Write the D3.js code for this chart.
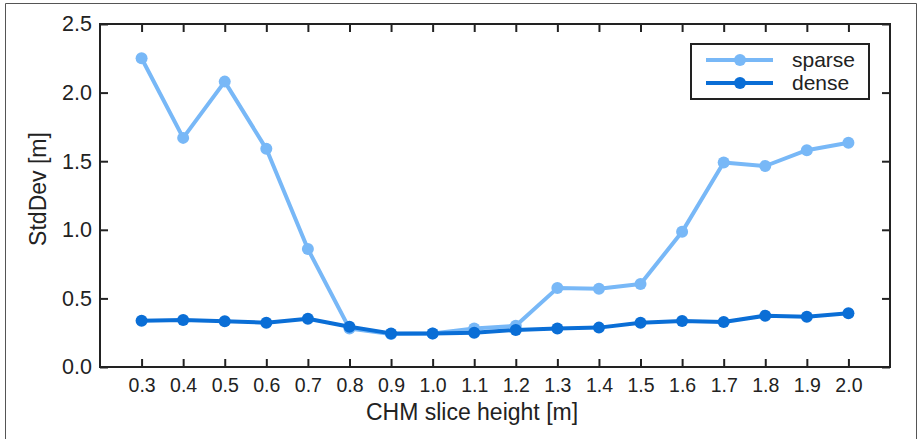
<!DOCTYPE html>
<html>
<head>
<meta charset="utf-8">
<script src="https://cdn.jsdelivr.net/npm/d3@7"></script>
<style>
  body { margin: 0; background: #fff; }
  svg { font-family: "Liberation Sans", Arial, sans-serif; }
</style>
</head>
<body>
<div id="chart"></div>
<script>
const heights = [0.3, 0.4, 0.5, 0.6, 0.7, 0.8, 0.9, 1.0, 1.1, 1.2, 1.3, 1.4, 1.5, 1.6, 1.7, 1.8, 1.9, 2.0];
const sparse = [2.25, 1.67, 2.08, 1.59, 0.86, 0.28, 0.24, 0.245, 0.28, 0.30, 0.575, 0.57, 0.605, 0.985, 1.49, 1.465, 1.58, 1.635];
const dense = [0.337, 0.343, 0.333, 0.323, 0.352, 0.294, 0.245, 0.245, 0.25, 0.27, 0.28, 0.287, 0.323, 0.335, 0.328, 0.374, 0.367, 0.391];
const yTicks = [0.0, 0.5, 1.0, 1.5, 2.0, 2.5];

const series = [
    {name: "sparse", values: sparse, color: "#78b8f7"},
    {name: "dense", values: dense, color: "#0a6ed6"}
];

let W = 918, H = 439;
let margin = {left: 100, right: 28, top: 24, bottom: 72};
let width = W - margin.left - margin.right,
    height = H - margin.top - margin.bottom;

let svg = d3.select("#chart")
    .append("svg")
    .attr("width", W)
    .attr("height", H);

// outer frame
svg.append("path")
    .attr("d", "M5.5," + H + "V3.5H916.5V" + H)
    .attr("fill", "none")
    .attr("stroke", "#555")
    .attr("stroke-width", 1);

let g = svg.append("g")
    .attr("transform", "translate(" + margin.left + "," + margin.top + ")");

let x = d3.scaleLinear().domain([0.2, 2.1]).range([0, width]);
let y = d3.scaleLinear().domain([0, 2.5]).range([height, 0]);

let fmt = d3.format(".1f");

let styleAxis = (sel, fontSize, hideText) => {
    sel.select(".domain").remove();
    sel.selectAll(".tick line").attr("stroke", "#222").attr("stroke-width", 2);
    sel.selectAll(".tick text")
        .attr("font-size", fontSize)
        .attr("fill", "#222");
    if (hideText) sel.selectAll(".tick text").remove();
};

g.append("g")
    .attr("transform", "translate(0," + height + ")")
    .call(d3.axisBottom(x).tickValues(heights).tickFormat(fmt).tickSizeInner(-8).tickSizeOuter(0).tickPadding(11))
    .call(s => styleAxis(s, "19.5px", false));

g.append("g")
    .call(d3.axisTop(x).tickValues(heights).tickSizeInner(-8).tickSizeOuter(0))
    .call(s => styleAxis(s, "19px", true));

g.append("g")
    .call(d3.axisLeft(y).tickValues(yTicks).tickFormat(fmt).tickSizeInner(-8).tickSizeOuter(0).tickPadding(8))
    .call(s => styleAxis(s, "21.5px", false));

g.append("g")
    .attr("transform", "translate(" + width + ",0)")
    .call(d3.axisRight(y).tickValues(yTicks).tickSizeInner(-8).tickSizeOuter(0))
    .call(s => styleAxis(s, "21px", true));

g.append("rect")
    .attr("width", width)
    .attr("height", height)
    .attr("fill", "none")
    .attr("stroke", "#222")
    .attr("stroke-width", 2);

let line = d3.line()
    .x((d, i) => x(heights[i]))
    .y(d => y(d));

series.forEach(s => {
    g.append("path")
        .datum(s.values)
        .attr("fill", "none")
        .attr("stroke", s.color)
        .attr("stroke-width", 4)
        .attr("stroke-linejoin", "round")
        .attr("d", line);

    g.selectAll(".pt-" + s.name)
        .data(s.values)
        .enter()
        .append("circle")
        .attr("cx", (d, i) => x(heights[i]))
        .attr("cy", d => y(d))
        .attr("r", 6)
        .attr("fill", s.color);
});

// axis labels
svg.append("text")
    .attr("x", 472)
    .attr("y", 420)
    .attr("text-anchor", "middle")
    .attr("font-size", "23px")
    .attr("fill", "#222")
    .text("CHM slice height [m]");

svg.append("text")
    .attr("transform", "translate(46,189) rotate(-90)")
    .attr("text-anchor", "middle")
    .attr("font-size", "23px")
    .attr("fill", "#222")
    .text("StdDev [m]");

// legend
let legend = svg.append("g").attr("transform", "translate(691,44)");
legend.append("rect")
    .attr("width", 178)
    .attr("height", 55)
    .attr("fill", "#fff")
    .attr("stroke", "#222")
    .attr("stroke-width", 2);

series.forEach((s, i) => {
    let ly = 16 + i * 23;
    legend.append("line")
        .attr("x1", 15).attr("x2", 82)
        .attr("y1", ly).attr("y2", ly)
        .attr("stroke", s.color)
        .attr("stroke-width", 4);
    legend.append("circle")
        .attr("cx", 49).attr("cy", ly).attr("r", 6)
        .attr("fill", s.color);
    legend.append("text")
        .attr("x", 101)
        .attr("y", ly + 7)
        .attr("font-size", "21px")
        .attr("fill", "#222")
        .text(s.name);
});
</script>
</body>
</html>
